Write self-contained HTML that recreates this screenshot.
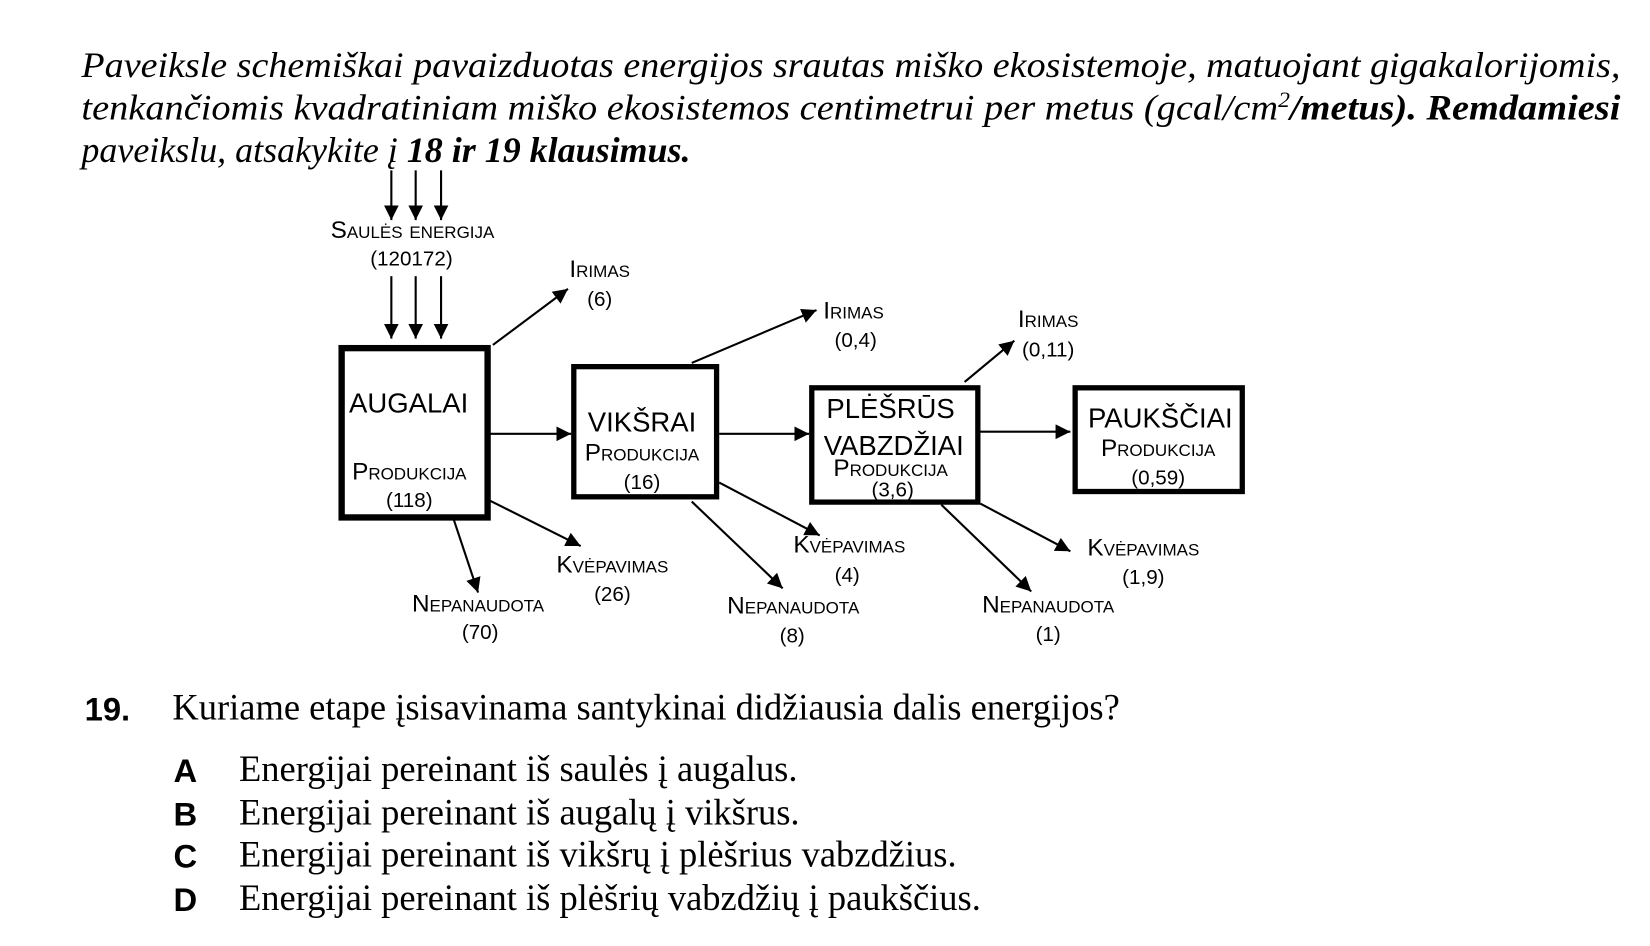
<!DOCTYPE html>
<html><head><meta charset="utf-8"><style>
html,body{margin:0;padding:0;background:#fff;width:1650px;height:946px;overflow:hidden}
svg{display:block}
.sc{font-family:"Liberation Sans",sans-serif;font-variant:small-caps;font-size:23px;text-anchor:middle}
.num{font-family:"Liberation Sans",sans-serif;font-size:19.5px;text-anchor:middle}
.big{font-family:"Liberation Sans",sans-serif;font-size:26px}
.it{font-family:"Liberation Serif",serif;font-style:italic;font-size:34px}
.q{font-family:"Liberation Serif",serif;font-size:34.5px}
.b{font-family:"Liberation Sans",sans-serif;font-weight:bold;font-size:31px}
</style></head><body>
<svg width="1650" height="946" viewBox="0 0 1560 894" preserveAspectRatio="none" xmlns="http://www.w3.org/2000/svg">
<defs><marker id="a" viewBox="0 0 10 10" refX="10" refY="5" markerWidth="7" markerHeight="7" orient="auto-start-reverse"><path d="M0,0 L10,5 L0,10 z" fill="#000"/></marker></defs>
<text class="it" x="77" y="73" textLength="1455" lengthAdjust="spacingAndGlyphs">Paveiksle schemiškai pavaizduotas energijos srautas miško ekosistemoje, matuojant gigakalorijomis,</text>
<text class="it" x="77" y="113" textLength="1455" lengthAdjust="spacingAndGlyphs">tenkančiomis kvadratiniam miško ekosistemos centimetrui per metus (gcal/cm<tspan dy="-12" font-size="21">2</tspan><tspan dy="12" font-weight="bold">/metus). Remdamiesi</tspan></text>
<text class="it" x="77" y="153">paveikslu, atsakykite į <tspan font-weight="bold">18 ir 19 klausimus.</tspan></text>
<g transform="translate(-3,-2)">
<g stroke="#000" stroke-width="2" fill="none" marker-end="url(#a)">
<line x1="373" y1="163" x2="373" y2="210"/><line x1="396" y1="163" x2="396" y2="210"/><line x1="420" y1="163" x2="420" y2="210"/>
<line x1="373" y1="263" x2="373" y2="322"/><line x1="396" y1="263" x2="396" y2="322"/><line x1="420" y1="263" x2="420" y2="322"/>
<line x1="469" y1="328" x2="540" y2="275"/>
<line x1="466" y1="412" x2="543" y2="412"/><line x1="683" y1="412" x2="768" y2="412"/><line x1="930" y1="410" x2="1015" y2="410"/>
<line x1="657" y1="345" x2="775" y2="295"/><line x1="915" y1="363" x2="962" y2="324"/>
<line x1="432" y1="493" x2="455" y2="562"/><line x1="466" y1="475" x2="552" y2="518"/>
<line x1="683" y1="458" x2="778" y2="508"/><line x1="657" y1="476" x2="743" y2="558"/>
<line x1="930" y1="478" x2="1015" y2="523"/><line x1="893" y1="479" x2="978" y2="561"/>
</g>
<g fill="#fff" stroke="#000">
<rect x="326" y="331" width="138" height="160" stroke-width="6"/>
<rect x="545.5" y="348.5" width="135" height="123" stroke-width="5"/>
<rect x="770.5" y="368.5" width="157" height="108" stroke-width="5"/>
<rect x="1019.5" y="368.5" width="158" height="98" stroke-width="5"/>
</g>
<text class="sc" x="393" y="227">Saulės energija</text><text class="num" x="392" y="253">(120172)</text>
<text class="sc" x="570" y="264">Irimas</text><text class="num" x="570" y="291">(6)</text>
<text class="sc" x="810" y="303">Irimas</text><text class="num" x="812" y="330">(0,4)</text>
<text class="sc" x="994" y="311">Irimas</text><text class="num" x="994" y="339">(0,11)</text>
<text class="sc" x="455" y="580">Nepanaudota</text><text class="num" x="457" y="606">(70)</text>
<text class="sc" x="582" y="543">Kvėpavimas</text><text class="num" x="582" y="570">(26)</text>
<text class="sc" x="806" y="524">Kvėpavimas</text><text class="num" x="804" y="552">(4)</text>
<text class="sc" x="753" y="582">Nepanaudota</text><text class="num" x="752" y="609">(8)</text>
<text class="sc" x="1084" y="527">Kvėpavimas</text><text class="num" x="1084" y="554">(1,9)</text>
<text class="sc" x="994" y="581">Nepanaudota</text><text class="num" x="994" y="608">(1)</text>
<text class="big" x="333" y="392">AUGALAI</text>
<text class="sc" x="390" y="455">Produkcija</text><text class="num" x="390" y="481">(118)</text>
<text class="big" x="610" y="410" text-anchor="middle">VIKŠRAI</text>
<text class="sc" x="610" y="437">Produkcija</text><text class="num" x="610" y="464">(16)</text>
<text class="big" x="845" y="397" text-anchor="middle">PLĖŠRŪS</text>
<text class="big" x="848" y="432" text-anchor="middle">VABZDŽIAI</text>
<text class="sc" x="845" y="452">Produkcija</text><text class="num" x="847" y="471">(3,6)</text>
<text class="big" x="1100" y="406" text-anchor="middle">PAUKŠČIAI</text>
<text class="sc" x="1098" y="433">Produkcija</text><text class="num" x="1098" y="460">(0,59)</text>
</g>
<text class="b" x="80" y="681">19.</text>
<text class="q" x="163" y="680">Kuriame etape įsisavinama santykinai didžiausia dalis energijos?</text>
<text class="b" x="164" y="739">A</text><text class="q" x="226" y="738">Energijai pereinant iš saulės į augalus.</text>
<text class="b" x="164" y="780">B</text><text class="q" x="226" y="779">Energijai pereinant iš augalų į vikšrus.</text>
<text class="b" x="164" y="820">C</text><text class="q" x="226" y="819">Energijai pereinant iš vikšrų į plėšrius vabzdžius.</text>
<text class="b" x="164" y="861">D</text><text class="q" x="226" y="860">Energijai pereinant iš plėšrių vabzdžių į paukščius.</text>
</svg>
</body></html>
